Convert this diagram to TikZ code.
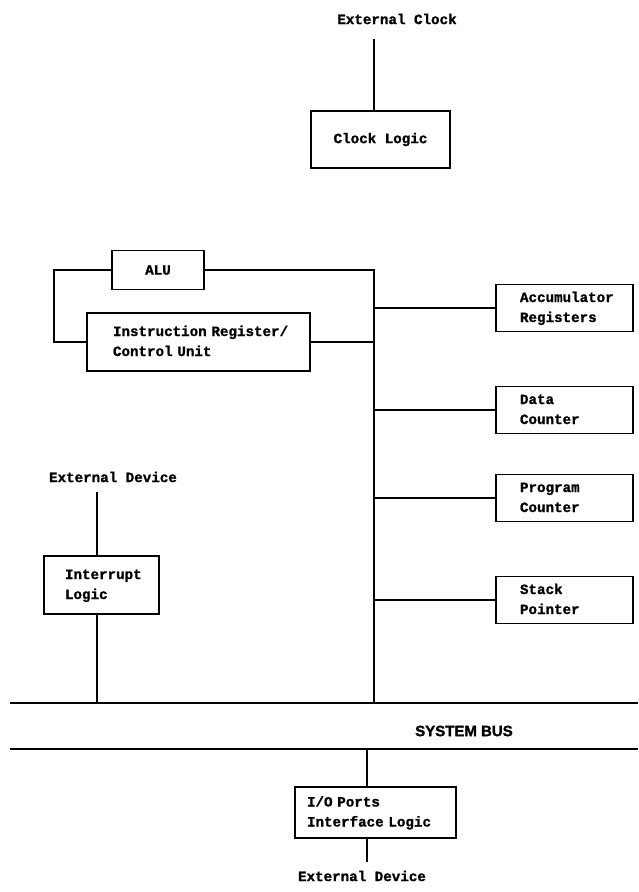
\documentclass[tikz,border=0pt]{standalone}
\usepackage{fontspec}
\newfontfamily\dmfont{Liberation Mono}[BoldFeatures={FakeBold=1.2}]
\newfontfamily\busfont{Liberation Sans}[BoldFeatures={FakeBold=1.5}]
\newcommand\twolines[1]{\begin{tabular}{@{}l@{}}#1\end{tabular}}
\begin{document}
\begin{tikzpicture}[x=1pt,y=-1pt,line width=1.6pt,
  txt/.style={font=\dmfont\bfseries\fontsize{14.2}{20}\selectfont, inner sep=0pt},
  box/.style={draw, line width=1.7pt, inner sep=0pt, txt},
  lbox/.style={box, align=left}]
\useasboundingbox (0,0) rectangle (638,892);
\fill[white] (0,0) rectangle (638,892);

% top
\node[txt] (extclk) at (397,19) {External Clock};
\node[box, minimum width=139pt, minimum height=57pt] (clock) at (380.5,139.5) {Clock Logic};
\coordinate (clkin) at (374,39);
\draw (clkin) -- (clkin |- clock.north);

% CPU core
\node[box, minimum width=92pt, minimum height=39pt] (alu) at (158,270) {ALU};
\node[lbox, minimum width=223pt, minimum height=58pt, text width=171pt] (ir) at (198.5,342) {\twolines{Instruction Register/\\Control Unit}};

\node[lbox, minimum width=137pt, minimum height=47pt, text width=89pt] (acc) at (564.5,308) {\twolines{Accumulator\\Registers}};
\node[lbox, minimum width=137pt, minimum height=47pt, text width=89pt] (data) at (564.5,410) {\twolines{Data\\Counter}};
\node[lbox, minimum width=137pt, minimum height=47pt, text width=89pt] (prog) at (564.5,498) {\twolines{Program\\Counter}};
\node[lbox, minimum width=137pt, minimum height=47pt, text width=89pt] (stack) at (564.5,600) {\twolines{Stack\\Pointer}};

% internal bus
\coordinate (ibtop) at (374,270);
\coordinate (ibbot) at (374,703);
\draw (alu.east) -- (ibtop) -- (ibbot);
\draw (alu.west) -- ++(-57,0) |- (ir.west);
\draw (ir.east) -- (ir.east -| ibtop);
\draw (acc.west) -- (acc.west -| ibtop);
\draw (data.west) -- (data.west -| ibtop);
\draw (prog.west) -- (prog.west -| ibtop);
\draw (stack.west) -- (stack.west -| ibtop);

% interrupt
\node[txt] (extdev1) at (113,477) {External Device};
\node[lbox, minimum width=115pt, minimum height=58pt, text width=73pt] (intr) at (101.5,585) {\twolines{Interrupt\\Logic}};
\coordinate (intin) at (97,492);
\draw (intin) -- (intin |- intr.north);
\draw (intin |- intr.south) -- (97,703);

% system bus
\coordinate (busTL) at (10,703);
\coordinate (busTR) at (638,703);
\coordinate (busBL) at (10,749);
\coordinate (busBR) at (638,749);
\draw (busTL) -- (busTR);
\draw (busBL) -- (busBR);
\node[font=\busfont\bfseries\fontsize{15}{18}\selectfont, inner sep=0pt] (sysbus) at (464,731) {SYSTEM BUS};

% I/O
\node[lbox, minimum width=161pt, minimum height=51pt, text width=137pt] (io) at (375.5,812.5) {\twolines{I/O Ports\\Interface Logic}};
\coordinate (ioin) at (367,749);
\draw (ioin) -- (ioin |- io.north);
\node[txt] (extdev2) at (362,876) {External Device};
\draw (ioin |- io.south) -- (367,862);
\end{tikzpicture}
\end{document}
